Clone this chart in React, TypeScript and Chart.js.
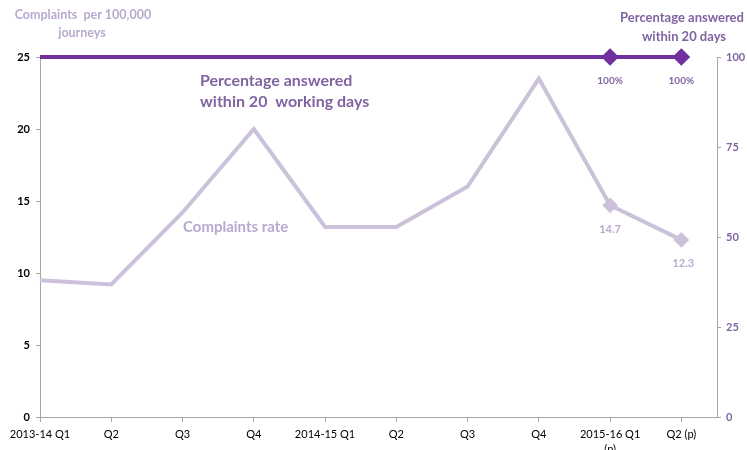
import React, { useEffect, useRef } from "react";
import { Chart, registerables } from "chart.js";

Chart.register(...registerables);

const categories: (string | string[])[] = [
  "2013-14 Q1", "Q2", "Q3", "Q4", "2014-15 Q1", "Q2", "Q3", "Q4", ["2015-16 Q1", "(p)"], "Q2 (p)",
];
const complaintsRate = [9.5, 9.2, 14.2, 20.0, 13.2, 13.2, 16.0, 23.5, 14.7, 12.3];
const pctAnswered = [100, 100, 100, 100, 100, 100, 100, 100, 100, 100];
const labelledIdx = [8, 9];
const leftTicks = [0, 5, 10, 15, 20, 25];
const rightTicks = [0, 25, 50, 75, 100];

const DARK = "#7030A0";
const LIGHT = "#CCC1DA";
const LIGHT_TEXT = "#B9A9CF";
const MID = "#8064A2";
const FONT = "Lato, 'Open Sans', sans-serif";

export default function App() {
  const ref = useRef<HTMLCanvasElement>(null);
  useEffect(() => {
    document.body.style.margin = "0";
    const ctx = ref.current!;
    const annot = {
      id: "annot",
      afterDatasetsDraw(chart: any) {
        const c = chart.ctx;
        const xs = chart.scales.x;
        const yl = chart.scales.y;
        const yr = chart.scales.y1;
        c.save();
        c.textAlign = "center";
        c.textBaseline = "middle";
        // titles
        c.font = `bold 12.5px ${FONT}`;
        c.fillStyle = LIGHT_TEXT;
        c.fillText("Complaints  per 100,000", 83, 15);
        c.fillText("journeys", 82, 33);
        c.font = `bold 13px ${FONT}`;
        c.fillStyle = MID;
        c.fillText("Percentage answered", 682, 18);
        c.fillText("within 20 days", 684, 37);
        c.font = `bold 16px ${FONT}`;
        c.textAlign = "left";
        c.fillStyle = MID;
        c.fillText("Percentage answered", 200, 81);
        c.fillText("within 20  working days", 200, 102);
        c.font = `bold 15px ${FONT}`;
        c.fillStyle = LIGHT_TEXT;
        c.fillText("Complaints rate", 183, 227);
        // data labels
        c.textAlign = "center";
        labelledIdx.forEach((i) => {
          const x = xs.getPixelForValue(i);
          c.font = `bold 10px ${FONT}`;
          c.fillStyle = MID;
          c.fillText(pctAnswered[i] + "%", x, yr.getPixelForValue(pctAnswered[i]) + 24);
          c.fillStyle = LIGHT_TEXT;
          c.font = `bold 11px ${FONT}`;
          c.fillText(complaintsRate[i].toFixed(1), x + (i === 9 ? 2 : 0), yl.getPixelForValue(complaintsRate[i]) + 24);
        });
        c.restore();
      },
    };
    const chart = new Chart(ctx, {
      type: "line",
      data: {
        datasets: [
          {
            label: "Percentage answered",
            data: pctAnswered.map((v, i) => ({ x: i, y: v })),
            yAxisID: "y1",
            borderColor: DARK,
            backgroundColor: DARK,
            borderWidth: 4,
            pointStyle: "rectRot",
            pointRadius: pctAnswered.map((_, i) => (labelledIdx.includes(i) ? 6 : 0)),
            clip: false as any,
            order: 0,
          },
          {
            label: "Complaints rate",
            data: complaintsRate.map((v, i) => ({ x: i, y: v })),
            yAxisID: "y",
            borderColor: LIGHT,
            backgroundColor: LIGHT,
            borderWidth: 4,
            pointStyle: "rectRot",
            pointRadius: complaintsRate.map((_, i) => (labelledIdx.includes(i) ? 5 : 0)),
            clip: false as any,
            order: 1,
          },
        ],
      },
      options: {
        animation: false,
        responsive: false,
        layout: { padding: { top: 57, left: 0, right: 0, bottom: 0 } },
        plugins: { legend: { display: false }, tooltip: { enabled: false } },
        scales: {
          x: {
            type: "linear",
            min: 0,
            max: 9.5,
            afterBuildTicks: (s: any) => {
              s.ticks = categories.map((_, i) => ({ value: i }));
            },
            afterFit: (s: any) => {
              s.height = 33;
            },
            border: { display: true, color: "#A6A6A6", width: 1 },
            grid: { drawOnChartArea: false, tickLength: 5, color: "#A6A6A6" },
            ticks: {
              autoSkip: false,
              maxRotation: 0,
              padding: 5,
              color: "#000",
              font: { family: FONT, size: 11, lineHeight: 1.35 },
              callback: (v: any) => categories[v as number] ?? "",
            },
          },
          y: {
            position: "left",
            min: 0,
            max: 25,
            afterBuildTicks: (s: any) => {
              s.ticks = leftTicks.map((v) => ({ value: v }));
            },
            afterFit: (s: any) => {
              s.width = 40;
            },
            border: { display: true, color: "#A6A6A6", width: 1 },
            grid: { drawOnChartArea: false, tickLength: 4, color: "#A6A6A6" },
            ticks: { color: "#000", padding: 6, font: { family: FONT, size: 11, weight: "bold" } },
          },
          y1: {
            position: "right",
            min: 0,
            max: 100,
            afterBuildTicks: (s: any) => {
              s.ticks = rightTicks.map((v) => ({ value: v }));
            },
            afterFit: (s: any) => {
              s.width = 30;
            },
            border: { display: true, color: "#A6A6A6", width: 1 },
            grid: { drawOnChartArea: false, tickLength: 4, color: "#A6A6A6" },
            ticks: { color: MID, padding: 5, font: { family: FONT, size: 11, weight: "bold" } },
          },
        },
      } as any,
      plugins: [annot],
    });
    return () => chart.destroy();
  }, []);
  return (
    <div style={{ width: 747, height: 450, background: "#fff" }}>
      <canvas ref={ref} width={747} height={450} style={{ display: "block" }} />
    </div>
  );
}
